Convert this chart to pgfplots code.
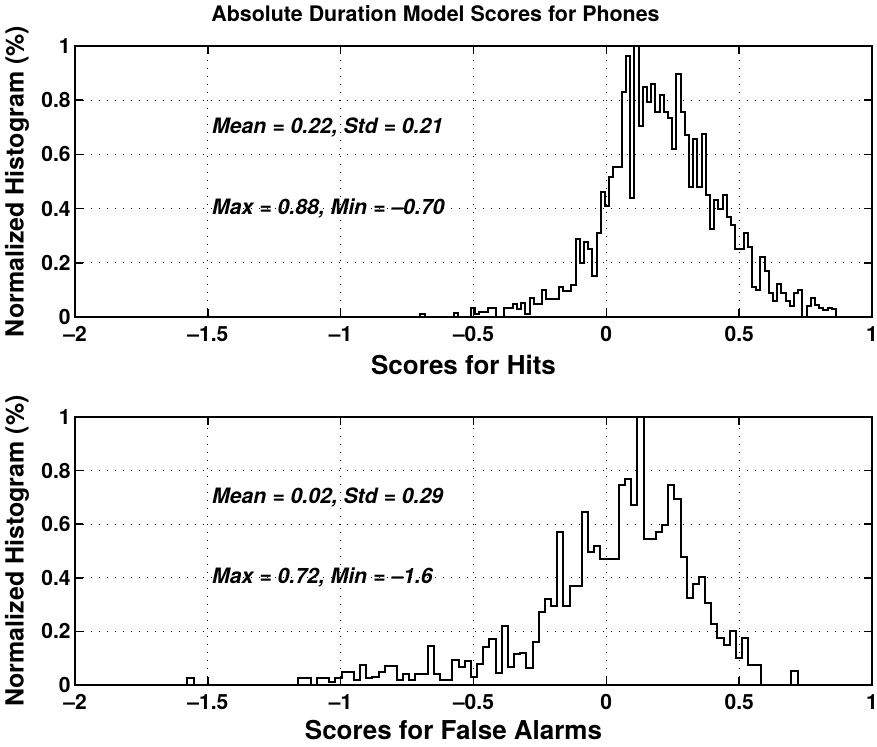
\documentclass[border=0pt]{standalone}
\usepackage{fontspec}
\setmainfont{TeX Gyre Heros}
\usepackage{pgfplots}
\pgfplotsset{compat=1.18}
\usepackage{pgfplotstable}

\pgfplotstableread{
x y
-0.7000 0
-0.7000 0.010
-0.6842 0
-0.6684 0
-0.6526 0
-0.6368 0
-0.6210 0
-0.6052 0
-0.5894 0
-0.5736 0.016
-0.5578 0
-0.5420 0
-0.5262 0
-0.5104 0.034
-0.4946 0.010
-0.4788 0.020
-0.4630 0.020
-0.4472 0.034
-0.4314 0.034
-0.4156 0
-0.3998 0
-0.3840 0.035
-0.3682 0.035
-0.3524 0.047
-0.3366 0.030
-0.3208 0.050
-0.3050 0.010
-0.2892 0.070
-0.2734 0.047
-0.2576 0.047
-0.2418 0.100
-0.2260 0.065
-0.2102 0.065
-0.1944 0.065
-0.1786 0.110
-0.1628 0.095
-0.1470 0.095
-0.1312 0.117
-0.1154 0.287
-0.0996 0.200
-0.0838 0.276
-0.0680 0.250
-0.0522 0.150
-0.0364 0.310
-0.0206 0.460
-0.0048 0.410
0.0110 0.516
0.0268 0.553
0.0426 0.553
0.0584 0.830
0.0742 0.963
0.0900 0.440
0.1058 1.000
0.1216 0.706
0.1374 0.847
0.1532 0.794
0.1690 0.860
0.1848 0.755
0.2006 0.820
0.2164 0.755
0.2322 0.736
0.2480 0.620
0.2638 0.896
0.2796 0.755
0.2954 0.670
0.3112 0.480
0.3270 0.657
0.3428 0.480
0.3586 0.675
0.3744 0.450
0.3902 0.326
0.4060 0.430
0.4218 0.400
0.4376 0.450
0.4534 0.370
0.4692 0.340
0.4850 0.250
0.5008 0.250
0.5166 0.310
0.5324 0.260
0.5482 0.110
0.5640 0.100
0.5798 0.220
0.5956 0.170
0.6114 0.090
0.6272 0.060
0.6430 0.120
0.6588 0.090
0.6746 0.060
0.6904 0.040
0.7062 0.090
0.7220 0.100
0.7378 0
0.7536 0.040
0.7694 0.070
0.7852 0.045
0.8010 0.035
0.8168 0.025
0.8326 0.035
0.8484 0.030
0.8642 0
0.8800 0
}\hitsdata

\pgfplotstableread{
x y
-1.6000 0
-1.5768 0.025
-1.5536 0
-1.1592 0.025
-1.1360 0.025
-1.1128 0
-1.0896 0.025
-1.0664 0.025
-1.0432 0.010
-1.0200 0.025
-0.9968 0.050
-0.9736 0.050
-0.9504 0.020
-0.9272 0.075
-0.9040 0.025
-0.8808 0.030
-0.8576 0.050
-0.8344 0.070
-0.8112 0.070
-0.7880 0.020
-0.7648 0.040
-0.7416 0.020
-0.7184 0.040
-0.6952 0.040
-0.6720 0.146
-0.6488 0.040
-0.6256 0.020
-0.6024 0.020
-0.5792 0.092
-0.5560 0.067
-0.5328 0.090
-0.5096 0.030
-0.4864 0.077
-0.4632 0.140
-0.4400 0.171
-0.4168 0.046
-0.3936 0.221
-0.3704 0.067
-0.3472 0.115
-0.3240 0.121
-0.3008 0.065
-0.2776 0.159
-0.2544 0.271
-0.2312 0.321
-0.2080 0.296
-0.1848 0.571
-0.1616 0.296
-0.1384 0.371
-0.1152 0.371
-0.0920 0.645
-0.0688 0.496
-0.0456 0.520
-0.0224 0.471
0.0008 0.471
0.0240 0.471
0.0472 0.745
0.0704 0.770
0.0936 0.670
0.1168 1.000
0.1400 0.546
0.1632 0.546
0.1864 0.571
0.2096 0.596
0.2328 0.745
0.2560 0.695
0.2792 0.479
0.3024 0.326
0.3256 0.377
0.3488 0.404
0.3720 0.305
0.3952 0.228
0.4184 0.174
0.4416 0.149
0.4648 0.203
0.4880 0.100
0.5112 0.177
0.5344 0.075
0.5576 0.075
0.5808 0
0.6968 0.052
0.7200 0
}\fadata

\begin{document}
\begin{tikzpicture}
\pgfplotsset{
  hist/.style={
    scale only axis, width=398.5pt,
    xmin=-2, xmax=1, ymin=0, ymax=1,
    xtick={-2,-1.5,-1,-0.5,0,0.5,1},
    xticklabels={--2,--1.5,--1,--0.5,0,0.5,1},
    ytick={0,0.2,0.4,0.6,0.8,1},
    yticklabels={0,0.2,0.4,0.6,0.8,1},
    tick align=inside, major tick length=4pt,
    every tick/.append style={black, line width=0.8pt},
    axis line style={line width=1pt},
    grid=major,
    major grid style={black, line width=0.6pt, dash pattern=on 0.6pt off 3.4pt},
    tick label style={font=\fontsize{10.5}{12}\selectfont\bfseries},
    xticklabel style={inner sep=0.5pt, yshift=-4pt},
    yticklabel style={inner sep=0.5pt, xshift=-1.5pt},
    ylabel={Normalized Histogram (\%)},
    every axis y label/.style={at={(axis description cs:-0.0728,0.5)}, rotate=90, anchor=center, font=\fontsize{12.5}{14}\selectfont\bfseries},
    every axis x label/.style={at={(axis description cs:0.5,0)}, anchor=center, yshift=-24pt, font=\fontsize{13}{15}\selectfont\bfseries},
  }
}
\begin{axis}[hist, height=135.5pt, at={(37.5pt,214.5pt)}, anchor=south west,
  xlabel={Scores for Hits},
  xlabel style={xshift=-5pt},
  title={Absolute Duration Model Scores for Phones},
  title style={at={(axis description cs:0.5,1)}, anchor=center, xshift=-19pt, yshift=10pt, font=\fontsize{10.7}{12}\selectfont\bfseries}]
\addplot[const plot, black, line width=1pt] table[x=x,y=y] {\hitsdata};
\node[anchor=west, font=\fontsize{10.6}{12}\selectfont\bfseries\itshape] at (axis cs:-1.51,0.7) {Mean = 0.22, Std = 0.21};
\node[anchor=west, font=\fontsize{10.6}{12}\selectfont\bfseries\itshape] at (axis cs:-1.51,0.4) {Max = 0.88, Min = --0.70};
\end{axis}
\begin{axis}[hist, height=134pt, at={(37.5pt,30.5pt)}, anchor=south west,
  xlabel={Scores for False Alarms},
  xlabel style={xshift=-10pt, yshift=1.5pt}]
\addplot[const plot, black, line width=1pt] table[x=x,y=y] {\fadata};
\node[anchor=west, font=\fontsize{10.6}{12}\selectfont\bfseries\itshape] at (axis cs:-1.51,0.7) {Mean = 0.02, Std = 0.29};
\node[anchor=west, font=\fontsize{10.6}{12}\selectfont\bfseries\itshape] at (axis cs:-1.51,0.4) {Max = 0.72, Min = --1.6};
\end{axis}
\pgfresetboundingbox
\path[use as bounding box] (0,0) rectangle (438.5pt,373pt);
\end{tikzpicture}
\end{document}
